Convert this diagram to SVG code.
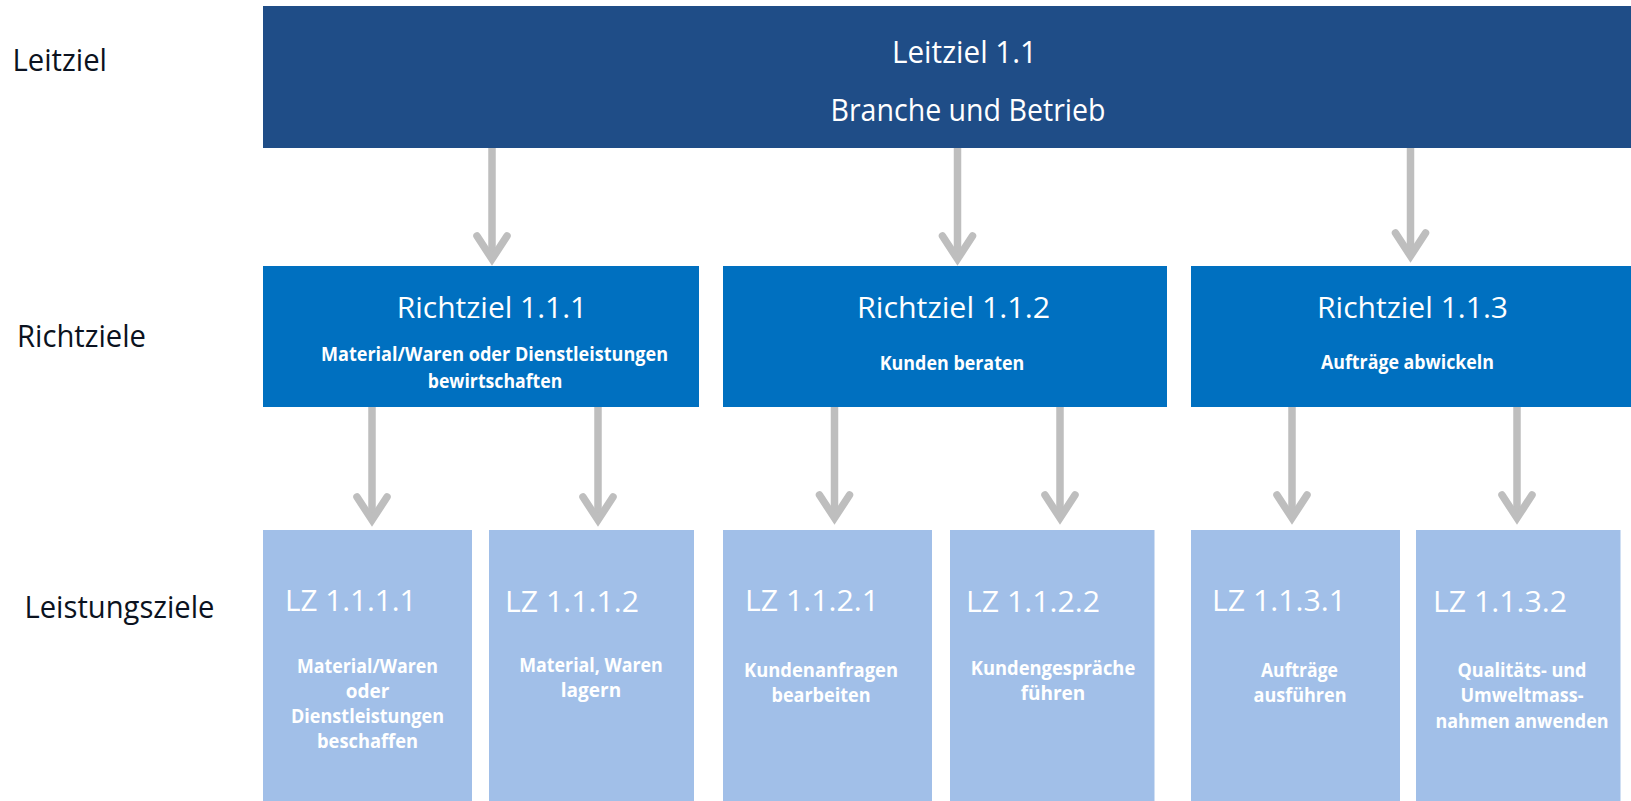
<svg xmlns="http://www.w3.org/2000/svg" width="1631" height="801" viewBox="0 0 1631 801">
<style>
.bg{fill:#ffffff}
.lvl0{fill:#1F4D87}
.lvl1{fill:#0070C0}
.lvl2{fill:#A1BFE8}
.side{font-family:"Open Sans","Liberation Sans",sans-serif;font-size:31px;fill:#0B1220}
.t0{font-family:"Open Sans","Liberation Sans",sans-serif;font-size:31px;fill:#ffffff;text-anchor:middle}
.t1{font-family:"Open Sans","Liberation Sans",sans-serif;font-size:30px;fill:#ffffff;text-anchor:middle}
.s1{font-family:"Open Sans","Liberation Sans",sans-serif;font-size:20px;font-weight:bold;fill:#ffffff;text-anchor:middle}
.t2{font-family:"Open Sans","Liberation Sans",sans-serif;font-size:29px;fill:#ffffff}
.s2{font-family:"Open Sans","Liberation Sans",sans-serif;font-size:19px;font-weight:bold;fill:#ffffff;text-anchor:middle}
.shaft{stroke:#BEBEBE;stroke-width:7.5;fill:none}
.head{stroke:#BEBEBE;stroke-width:7.5;fill:none;stroke-linecap:round;stroke-linejoin:miter;stroke-miterlimit:10}
</style>
<rect class="bg" x="0" y="0" width="1631" height="801"/>

<g id="labels">
<text class="side" x="12.5" y="71" textLength="94.5" lengthAdjust="spacingAndGlyphs">Leitziel</text>
<text class="side" x="17" y="347" textLength="129" lengthAdjust="spacingAndGlyphs">Richtziele</text>
<text class="side" x="24.5" y="618" textLength="190" lengthAdjust="spacingAndGlyphs">Leistungsziele</text>
</g>

<g id="connectors">
<line class="shaft" x1="492" y1="148" x2="492" y2="258"/>
<polyline class="head" points="477,236 492,259 507,236"/>
<line class="shaft" x1="957.5" y1="148" x2="957.5" y2="258"/>
<polyline class="head" points="942.5,236 957.5,259 972.5,236"/>
<line class="shaft" x1="1410.5" y1="148" x2="1410.5" y2="255"/>
<polyline class="head" points="1395.5,233 1410.5,256 1425.5,233"/>

<line class="shaft" x1="372" y1="407" x2="372" y2="520"/>
<polyline class="head" points="357,497 372,520 387,497"/>
<line class="shaft" x1="598" y1="407" x2="598" y2="520"/>
<polyline class="head" points="583,497 598,520 613,497"/>
<line class="shaft" x1="834.5" y1="407" x2="834.5" y2="518"/>
<polyline class="head" points="819.5,495 834.5,518 849.5,495"/>
<line class="shaft" x1="1060" y1="407" x2="1060" y2="518"/>
<polyline class="head" points="1045,495 1060,518 1075,495"/>
<line class="shaft" x1="1292" y1="407" x2="1292" y2="518"/>
<polyline class="head" points="1277,495 1292,518 1307,495"/>
<line class="shaft" x1="1517" y1="407" x2="1517" y2="518"/>
<polyline class="head" points="1502,495 1517,518 1532,495"/>
</g>

<g id="leitziel">
<rect class="lvl0" x="263" y="6" width="1368" height="142"/>
<text class="t0" x="964.5" y="63" textLength="145" lengthAdjust="spacingAndGlyphs">Leitziel 1.1</text>
<text class="t0" x="968" y="121" textLength="275" lengthAdjust="spacingAndGlyphs">Branche und Betrieb</text>
</g>

<g id="richtziel-1-1-1">
<rect class="lvl1" x="263" y="266" width="436" height="141"/>
<text class="t1" x="492" y="317.5" textLength="190.5" lengthAdjust="spacingAndGlyphs">Richtziel 1.1.1</text>
<text class="s1" x="494.5" y="361" textLength="347" lengthAdjust="spacingAndGlyphs">Material/Waren oder Dienstleistungen</text>
<text class="s1" x="495" y="388" textLength="134.5" lengthAdjust="spacingAndGlyphs">bewirtschaften</text>
</g>

<g id="richtziel-1-1-2">
<rect class="lvl1" x="723" y="266" width="444" height="141"/>
<text class="t1" x="953.5" y="317.5" textLength="193" lengthAdjust="spacingAndGlyphs">Richtziel 1.1.2</text>
<text class="s1" x="952" y="370" textLength="144.5" lengthAdjust="spacingAndGlyphs">Kunden beraten</text>
</g>

<g id="richtziel-1-1-3">
<rect class="lvl1" x="1191" y="266" width="440" height="141"/>
<text class="t1" x="1412.5" y="317.5" textLength="191" lengthAdjust="spacingAndGlyphs">Richtziel 1.1.3</text>
<text class="s1" x="1407.5" y="369" textLength="173" lengthAdjust="spacingAndGlyphs">Aufträge abwickeln</text>
</g>

<g id="lz-1-1-1-1">
<rect class="lvl2" x="263" y="530" width="209" height="271"/>
<text class="t2" x="285" y="610.5" textLength="131.5" lengthAdjust="spacingAndGlyphs">LZ 1.1.1.1</text>
<text class="s2" x="367.5" y="673" textLength="141" lengthAdjust="spacingAndGlyphs">Material/Waren</text>
<text class="s2" x="367.5" y="698">oder</text>
<text class="s2" x="367.5" y="723" textLength="153" lengthAdjust="spacingAndGlyphs">Dienstleistungen</text>
<text class="s2" x="367.5" y="748" textLength="101" lengthAdjust="spacingAndGlyphs">beschaffen</text>
</g>

<g id="lz-1-1-1-2">
<rect class="lvl2" x="489" y="530" width="205" height="271"/>
<text class="t2" x="505" y="612" textLength="134" lengthAdjust="spacingAndGlyphs">LZ 1.1.1.2</text>
<text class="s2" x="591" y="672" textLength="143.5" lengthAdjust="spacingAndGlyphs">Material, Waren</text>
<text class="s2" x="591" y="697">lagern</text>
</g>

<g id="lz-1-1-2-1">
<rect class="lvl2" x="723" y="530" width="209" height="271"/>
<text class="t2" x="745" y="611" textLength="134" lengthAdjust="spacingAndGlyphs">LZ 1.1.2.1</text>
<text class="s2" x="821" y="677" textLength="154" lengthAdjust="spacingAndGlyphs">Kundenanfragen</text>
<text class="s2" x="821" y="702" textLength="99" lengthAdjust="spacingAndGlyphs">bearbeiten</text>
</g>

<g id="lz-1-1-2-2">
<rect class="lvl2" x="950" y="530" width="204.5" height="271"/>
<text class="t2" x="966" y="612" textLength="134" lengthAdjust="spacingAndGlyphs">LZ 1.1.2.2</text>
<text class="s2" x="1053" y="675" textLength="164.5" lengthAdjust="spacingAndGlyphs">Kundengespräche</text>
<text class="s2" x="1053" y="700">führen</text>
</g>

<g id="lz-1-1-3-1">
<rect class="lvl2" x="1191" y="530" width="209" height="271"/>
<text class="t2" x="1212" y="611" textLength="134" lengthAdjust="spacingAndGlyphs">LZ 1.1.3.1</text>
<text class="s2" x="1299.5" y="677" textLength="77" lengthAdjust="spacingAndGlyphs">Aufträge</text>
<text class="s2" x="1300" y="702" textLength="93" lengthAdjust="spacingAndGlyphs">ausführen</text>
</g>

<g id="lz-1-1-3-2">
<rect class="lvl2" x="1416" y="530" width="204.5" height="271"/>
<text class="t2" x="1433" y="612" textLength="134" lengthAdjust="spacingAndGlyphs">LZ 1.1.3.2</text>
<text class="s2" x="1522" y="677" textLength="129" lengthAdjust="spacingAndGlyphs">Qualitäts- und</text>
<text class="s2" x="1522" y="702" textLength="123" lengthAdjust="spacingAndGlyphs">Umweltmass-</text>
<text class="s2" x="1522" y="728" textLength="173" lengthAdjust="spacingAndGlyphs">nahmen anwenden</text>
</g>
</svg>
